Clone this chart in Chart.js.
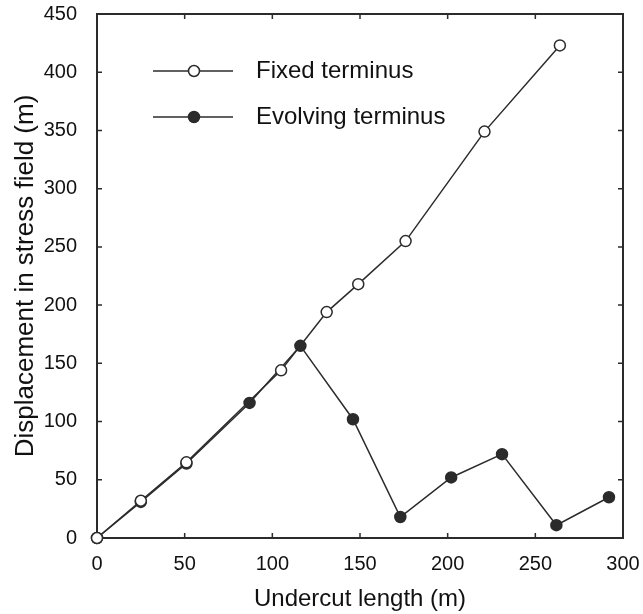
<!DOCTYPE html>
<html>
<head>
<meta charset="utf-8">
<script src="https://cdn.jsdelivr.net/npm/chart.js@4.4.0/dist/chart.umd.min.js"></script>
<style>
    body { margin: 0; background: #fff; }
    #wrap { width: 643px; height: 614px; }
</style>
</head>
<body>
<div id="wrap"><canvas id="displacementChart" width="643" height="614"></canvas></div>
<script>
// Data
const fixedX = [0, 25, 51, 105, 131, 149, 176, 221, 264];
const fixedY = [0, 32, 65, 144, 194, 218, 255, 349, 423];
const evolvingX = [0, 25, 51, 87, 116, 146, 173, 202, 231, 262, 292];
const evolvingY = [0, 31, 64, 116, 165, 102, 18, 52, 72, 11, 35];
const xTicks = [0, 50, 100, 150, 200, 250, 300];
const yTicks = [0, 50, 100, 150, 200, 250, 300, 350, 400, 450];
const seriesNames = ['Fixed terminus', 'Evolving terminus'];

const INK = '#2b2b2b';
const FONT = 'Liberation Sans, Arial, sans-serif';

function toPoints(xs, ys) {
    return xs.map((x, i) => ({ x: x, y: ys[i] }));
}

// Box around the plot with inward ticks on all four sides
const frameTicks = {
    id: 'frameTicks',
    beforeDatasetsDraw(chart) {
        const { ctx, chartArea: a, scales } = chart;
        const len = 5;
        ctx.save();
        ctx.strokeStyle = INK;
        ctx.lineWidth = 1.5;
        ctx.beginPath();
        xTicks.forEach(v => {
            const px = scales.x.getPixelForValue(v);
            ctx.moveTo(px, a.bottom); ctx.lineTo(px, a.bottom - len);
            ctx.moveTo(px, a.top); ctx.lineTo(px, a.top + len);
        });
        yTicks.forEach(v => {
            const py = scales.y.getPixelForValue(v);
            ctx.moveTo(a.left, py); ctx.lineTo(a.left + len, py);
            ctx.moveTo(a.right, py); ctx.lineTo(a.right - len, py);
        });
        ctx.stroke();
        ctx.lineWidth = 2;
        ctx.strokeRect(a.left, a.top, a.right - a.left, a.bottom - a.top);
        ctx.restore();
    }
};

// Legend drawn inside the plot, upper left
const insideLegend = {
    id: 'insideLegend',
    afterDraw(chart) {
        const ctx = chart.ctx;
        const rows = [
            { y: 71, ds: chart.data.datasets[0] },
            { y: 117, ds: chart.data.datasets[1] }
        ];
        ctx.save();
        rows.forEach(r => {
            ctx.strokeStyle = INK;
            ctx.lineWidth = 1.5;
            ctx.beginPath();
            ctx.moveTo(153, r.y);
            ctx.lineTo(233, r.y);
            ctx.stroke();
            ctx.beginPath();
            ctx.arc(194, r.y, 5.5, 0, Math.PI * 2);
            ctx.fillStyle = r.ds.pointBackgroundColor;
            ctx.fill();
            ctx.stroke();
            ctx.fillStyle = '#111';
            ctx.font = '24px ' + FONT;
            ctx.textBaseline = 'middle';
            ctx.textAlign = 'left';
            ctx.fillText(r.ds.label, 256, r.y);
        });
        ctx.restore();
    }
};

new Chart(document.getElementById('displacementChart'), {
    type: 'scatter',
    data: {
        // first dataset is drawn on top, so open circles sit over the filled line
        datasets: [
            {
                label: seriesNames[0],
                data: toPoints(fixedX, fixedY),
                showLine: true,
                clip: false,
                borderColor: INK,
                borderWidth: 1.5,
                pointRadius: 5.5,
                pointBackgroundColor: '#ffffff',
                pointBorderColor: INK,
                pointBorderWidth: 1.5
            },
            {
                label: seriesNames[1],
                data: toPoints(evolvingX, evolvingY),
                showLine: true,
                clip: false,
                borderColor: INK,
                borderWidth: 1.5,
                pointRadius: 5.5,
                pointBackgroundColor: INK,
                pointBorderColor: INK,
                pointBorderWidth: 1.5
            }
        ]
    },
    options: {
        responsive: false,
        animation: false,
        layout: { padding: { top: 14, right: 20, left: 0, bottom: 0 } },
        plugins: {
            legend: { display: false },
            tooltip: { enabled: false }
        },
        scales: {
            x: {
                type: 'linear',
                min: 0,
                max: 300,
                afterBuildTicks: s => { s.ticks = xTicks.map(v => ({ value: v })); },
                afterFit: s => { s.height = 76; s.paddingLeft = 0; s.paddingRight = 0; },
                grid: { display: false },
                border: { display: false },
                ticks: { color: '#111', font: { family: FONT, size: 20 }, padding: 6, maxRotation: 0 },
                title: {
                    display: true,
                    text: 'Undercut length (m)',
                    color: '#111',
                    font: { family: FONT, size: 24 },
                    padding: { top: 0, bottom: 0 }
                }
            },
            y: {
                type: 'linear',
                min: 0,
                max: 450,
                afterBuildTicks: s => { s.ticks = yTicks.map(v => ({ value: v })); },
                afterFit: s => { s.width = 97; s.paddingTop = 0; s.paddingBottom = 0; },
                grid: { display: false },
                border: { display: false },
                ticks: { color: '#111', font: { family: FONT, size: 20 }, padding: 12 },
                title: {
                    display: true,
                    text: 'Displacement in stress field (m)',
                    color: '#111',
                    font: { family: FONT, size: 26 },
                    padding: { top: 10, bottom: 0 }
                }
            }
        }
    },
    plugins: [frameTicks, insideLegend]
});
</script>
</body>
</html>
